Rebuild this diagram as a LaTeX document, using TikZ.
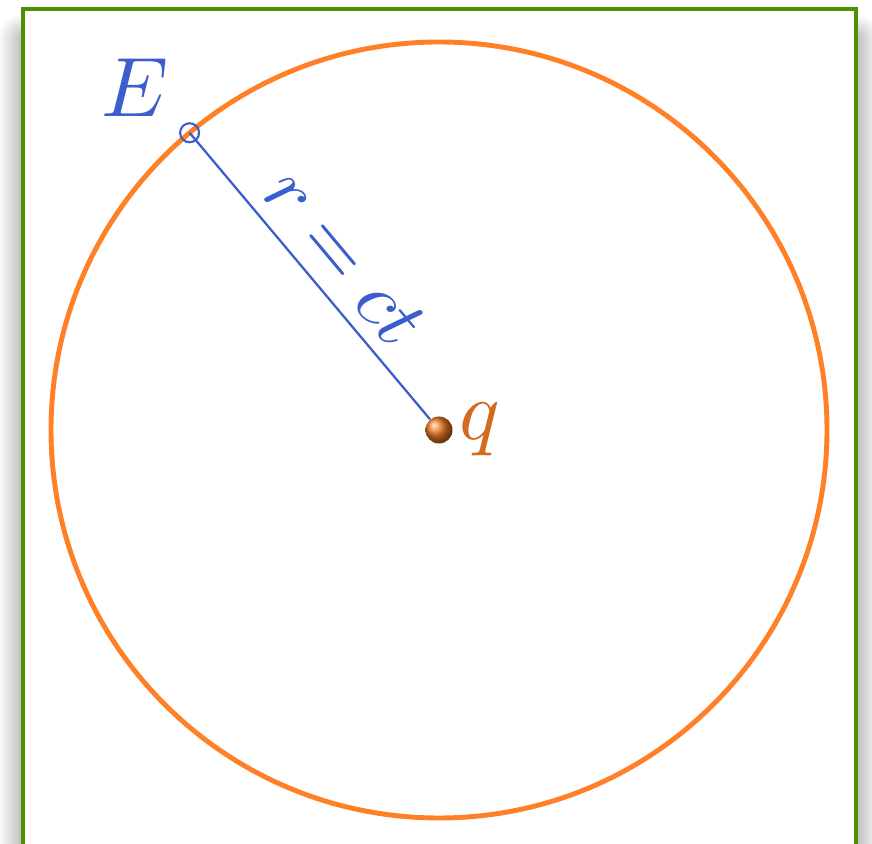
\documentclass[tikz,border=0pt]{standalone}
\usepackage{tikz}
\usetikzlibrary{positioning, shadows.blur}
\definecolor{framegreen}{RGB}{76, 145, 0}
\definecolor{waveorange}{RGB}{255, 128, 38}
\definecolor{fieldblue}{RGB}{60, 94, 205}
\definecolor{chargebrown}{RGB}{212, 106, 32}
\definecolor{ballorange}{RGB}{235, 120, 35}

\begin{document}
\begin{tikzpicture}[
    biglabel/.style={scale=4.8, inner sep=0.3pt},
    frame/.style={draw=framegreen, line width=2.8pt, fill=white, blur shadow={shadow xshift=0pt, shadow yshift=-0.6cm, shadow blur radius=0.5cm, shadow blur steps=12, shadow opacity=55}},
    front/.style={draw=waveorange, line width=2.8pt},
    charge/.style={circle, minimum size=0.54cm, inner sep=0pt, shading=ball, ball color=ballorange},
    probe/.style={circle, draw=fieldblue, line width=1.2pt, minimum size=0.38cm, inner sep=0pt},
    radius/.style={draw=fieldblue, line width=1.3pt}
]
\useasboundingbox (0,0) rectangle (17.44,16.86);
\clip (0,0) rectangle (17.44,16.86);
\path[frame] (0.46,-1) rectangle (17.12,16.68);
\draw[front] (8.78,8.26) circle (7.76cm);
\node[charge] (ball) at (8.78,8.26) {};
\node[probe] (Ept) at (130:7.76cm) [xshift=8.78cm, yshift=8.26cm] {};
\draw[radius] (Ept.center) -- (ball) node[pos=0.52, sloped, above=0.14cm, biglabel, scale=0.93, text=fieldblue] (rlabel) {$r=ct$};
\node[biglabel, text=fieldblue] (Elabel) at (2.70,15.10) {$E$};
\node[right=0.04cm of ball, biglabel, text=chargebrown] (qlabel) {$q$};
\end{tikzpicture}
\end{document}
